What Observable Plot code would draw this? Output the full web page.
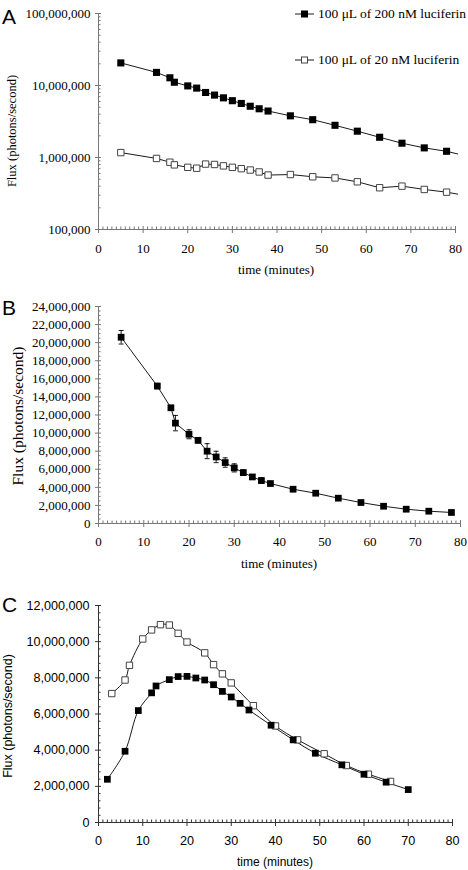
<!DOCTYPE html>
<html><head><meta charset="utf-8">
<script src="https://cdn.jsdelivr.net/npm/d3@7"></script>
<script src="https://cdn.jsdelivr.net/npm/@observablehq/plot@0.6"></script>
<style>
body{margin:0;background:#fff;}
#wrap{position:relative;width:468px;height:870px;overflow:hidden;background:#fff;}
#wrap > svg{position:absolute;left:0;overflow:visible;}
.letter{position:absolute;font-family:"Liberation Sans",Arial,sans-serif;font-size:21px;line-height:1;color:#000;}
.legend{position:absolute;font-family:"Liberation Serif",serif;font-size:13.5px;display:flex;align-items:center;white-space:nowrap;color:#000;}
.legend svg{margin-right:4px;}
.alabel{position:absolute;white-space:nowrap;line-height:1;color:#000;transform:translate(-50%,-50%);}
.alabel.rot{transform:translate(-50%,-50%) rotate(-90deg);}
</style></head><body><div id="wrap"></div>
<script>
// ---------- data ----------
const timesAB = [5,13,16,17,20,22,24,26,28,30,32,34,36,38,43,48,53,58,63,68,73,78];
const flux200 = [20.6e6,15.2e6,12.8e6,11.1e6,9.87e6,9.2e6,8.0e6,7.36e6,6.74e6,6.15e6,5.63e6,5.15e6,4.75e6,4.42e6,3.79e6,3.35e6,2.80e6,2.32e6,1.91e6,1.58e6,1.36e6,1.22e6];
const err200  = [0.75e6,0.3e6,0.2e6,0.85e6,0.5e6,0.3e6,0.83e6,0.63e6,0.52e6,0.45e6,0.3e6,0.25e6,0.3e6,0.2e6,0.12e6,0.12e6,0.12e6,0.12e6,0.1e6,0.1e6,0.1e6,0.1e6];
const flux20  = [1.17e6,0.97e6,0.86e6,0.79e6,0.73e6,0.71e6,0.81e6,0.80e6,0.765e6,0.73e6,0.70e6,0.67e6,0.63e6,0.57e6,0.58e6,0.54e6,0.52e6,0.46e6,0.38e6,0.40e6,0.36e6,0.33e6];
const lineEndTime = 80.5;
const lineEnd200 = 1.12e6;
const lineEnd20 = 0.31e6;

const timesCfilled = [2,6,9,12,13,16,18,20,22,24,26,28,30,32,34,39,44,49,55,60,65,70];
const fluxCfilled  = [2.39e6,3.94e6,6.19e6,7.17e6,7.55e6,7.90e6,8.07e6,8.08e6,7.99e6,7.88e6,7.62e6,7.25e6,6.94e6,6.59e6,6.22e6,5.38e6,4.57e6,3.83e6,3.19e6,2.67e6,2.23e6,1.82e6];
const timesCopen   = [3,6,7,10,12,14,16,18,20,24,26,28,30,35,40,45,51,56,61,66];
const fluxCopen    = [7.13e6,7.88e6,8.69e6,10.15e6,10.65e6,10.94e6,10.92e6,10.46e6,9.98e6,9.38e6,8.73e6,8.22e6,7.72e6,6.46e6,5.34e6,4.57e6,3.80e6,3.15e6,2.67e6,2.27e6];

const legendLabels = ["100 μL of 200 nM luciferin", "100 μL of 20 nM luciferin"];
const yTitle = "Flux (photons/second)";
const xTitle = "time (minutes)";
const xTicks = [0,10,20,30,40,50,60,70,80];
const yTicksA = [1e5,1e6,1e7,1e8];
const yTicksB = d3.range(0, 24e6 + 1, 2e6);
const yTicksC = d3.range(0, 12e6 + 1, 2e6);

// ---------- helpers ----------
const A = timesAB.map((t,i)=>({t, hi: flux200[i], lo: flux20[i], err: err200[i]}));
const lineHiA = [...A.map(d=>({t:d.t, v:d.hi})), {t: lineEndTime, v: lineEnd200}];
const lineLoA = [...A.map(d=>({t:d.t, v:d.lo})), {t: lineEndTime, v: lineEnd20}];
const Cf = timesCfilled.map((t,i)=>({t, v: fluxCfilled[i]}));
const Co = timesCopen.map((t,i)=>({t, v: fluxCopen[i]}));

const fmt = d3.format(",");
const minorX = d3.range(0, 81, 1).filter(v => v % 10 !== 0);
const minorLog = [];
for (const p of [1e5,1e6,1e7]) for (let k=2;k<10;k++) minorLog.push(k*p);
const capSymbol = {draw(ctx){ ctx.moveTo(-2.5,0); ctx.lineTo(2.5,0); }};

const wrap = document.getElementById("wrap");
function place(svg, top){ svg.style.top = top + "px"; wrap.appendChild(svg); }

function axesMarks({yTicks, yMinor, yMin, axisColor, tickPadX, tickPadY}) {
  return [
    Plot.ruleX([0], {stroke: axisColor}),
    Plot.ruleY([yMin], {stroke: axisColor}),
    Plot.axisY({ticks: yTicks, tickFormat: fmt, tickSize: 3, tickPadding: tickPadY, stroke: axisColor, label: null, fill: "#000"}),
    Plot.axisY({ticks: yTicks, tickFormat: () => "", tickSize: -3, stroke: axisColor, label: null}),
    Plot.axisY({ticks: yMinor, tickFormat: () => "", tickSize: -2.5, stroke: axisColor, label: null}),
    Plot.axisX({ticks: xTicks, tickFormat: d => d, tickSize: 4, tickPadding: tickPadX, stroke: axisColor, label: null, fill: "#000"}),
    Plot.axisX({ticks: xTicks, tickFormat: () => "", tickSize: -3, stroke: axisColor, label: null}),
    Plot.axisX({ticks: minorX, tickFormat: () => "", tickSize: -2.5, stroke: axisColor, label: null})
  ];
}

// ---------- Panel A ----------
const pA = Plot.plot({
  width: 468, height: 290,
  marginTop: 13, marginBottom: 61, marginLeft: 98, marginRight: 13,
  style: {fontFamily: "'Liberation Serif', serif", fontSize: "13px", color: "#000", background: "transparent"},
  x: {domain: [0, 80]},
  y: {type: "log", domain: [1e5, 1e8]},
  marks: [
    ...axesMarks({yTicks: yTicksA, yMinor: minorLog, yMin: 1e5, axisColor: "#777", tickPadX: 10, tickPadY: 5}),
    Plot.line(lineHiA, {x: "t", y: "v", stroke: "#000", strokeWidth: 0.9}),
    Plot.line(lineLoA, {x: "t", y: "v", stroke: "#000", strokeWidth: 0.9}),
    Plot.dot(A, {x: "t", y: "hi", symbol: "square", r: 4, fill: "#000", stroke: "none"}),
    Plot.dot(A, {x: "t", y: "lo", symbol: "square", r: 3.6, fill: "#fff", stroke: "#444", strokeWidth: 1})
  ]
});
place(pA, 0);

// ---------- Panel B ----------
const pB = Plot.plot({
  width: 468, height: 290,
  marginTop: 16, marginBottom: 57, marginLeft: 98, marginRight: 8,
  style: {fontFamily: "'Liberation Serif', serif", fontSize: "13px", color: "#000", background: "transparent"},
  x: {domain: [0, 80]},
  y: {domain: [0, 24e6]},
  marks: [
    ...axesMarks({yTicks: yTicksB, yMinor: d3.range(0, 24e6, 0.5e6).filter(v => v % 2e6 !== 0), yMin: 0, axisColor: "#777", tickPadX: 9, tickPadY: 5}),
    Plot.ruleX(A, {x: "t", y1: d => d.hi - d.err, y2: d => d.hi + d.err, stroke: "#000", strokeWidth: 0.9}),
    Plot.dot(A, {x: "t", y: d => d.hi - d.err, symbol: capSymbol, stroke: "#000", fill: "none", strokeWidth: 0.9}),
    Plot.dot(A, {x: "t", y: d => d.hi + d.err, symbol: capSymbol, stroke: "#000", fill: "none", strokeWidth: 0.9}),
    Plot.line(A, {x: "t", y: "hi", stroke: "#000", strokeWidth: 0.9}),
    Plot.dot(A, {x: "t", y: "hi", symbol: "square", r: 3.8, fill: "#000", stroke: "none"})
  ]
});
place(pB, 290);

// ---------- Panel C ----------
const pC = Plot.plot({
  width: 468, height: 290,
  marginTop: 25, marginBottom: 48, marginLeft: 98, marginRight: 16,
  style: {fontFamily: "'Liberation Sans', Arial, sans-serif", fontSize: "12.6px", color: "#000", background: "transparent"},
  x: {domain: [0, 80]},
  y: {domain: [0, 12e6]},
  marks: [
    ...axesMarks({yTicks: yTicksC, yMinor: d3.range(0, 12e6, 0.4e6).filter(v => Math.round(v) % 2e6 !== 0), yMin: 0, axisColor: "#333", tickPadX: 10, tickPadY: 6}),
    Plot.line(Co, {x: "t", y: "v", stroke: "#000", strokeWidth: 0.9, curve: "catmull-rom"}),
    Plot.line(Cf, {x: "t", y: "v", stroke: "#000", strokeWidth: 0.9, curve: "catmull-rom"}),
    Plot.dot(Co, {x: "t", y: "v", symbol: "square", r: 3.6, fill: "#fff", stroke: "#444", strokeWidth: 1}),
    Plot.dot(Cf, {x: "t", y: "v", symbol: "square", r: 3.8, fill: "#000", stroke: "none"})
  ]
});
place(pC, 580);

// ---------- axis titles ----------
function addLabel(text, cx, cy, size, family, rotated) {
  const d = document.createElement("div");
  d.className = "alabel" + (rotated ? " rot" : "");
  d.textContent = text;
  d.style.left = cx + "px"; d.style.top = cy + "px";
  d.style.fontSize = size + "px"; d.style.fontFamily = family;
  wrap.appendChild(d);
}
const serif = "'Liberation Serif', serif", sans = "'Liberation Sans', Arial, sans-serif";
addLabel(yTitle, 12, 131, 12.5, serif, true);
addLabel(yTitle, 18, 416, 15.5, serif, true);
addLabel(yTitle, 8, 716, 12.5, sans, true);
addLabel(xTitle, 276, 269, 13, serif, false);
addLabel(xTitle, 279, 563, 13, serif, false);
addLabel(xTitle, 275, 862, 12, sans, false);

// ---------- letters ----------
[["A", 6], ["B", 297], ["C", 594]].forEach(([t, top]) => {
  const d = document.createElement("div");
  d.className = "letter"; d.textContent = t;
  d.style.left = "2px"; d.style.top = top + "px";
  wrap.appendChild(d);
});

// ---------- legend (panel A) ----------
legendLabels.forEach((lab, i) => {
  const row = document.createElement("div");
  row.className = "legend";
  row.style.left = "295px";
  row.style.top = (i === 0 ? 6 : 52) + "px";
  const filled = i === 0;
  row.innerHTML = `<svg width="19" height="10" viewBox="0 0 19 10"><line x1="0" y1="5" x2="19" y2="5" stroke="#000" stroke-width="0.9"/>` +
    (filled ? `<rect x="6" y="1.5" width="7" height="7" fill="#000"/>` : `<rect x="6.5" y="2" width="6" height="6" fill="#fff" stroke="#444" stroke-width="1"/>`) +
    `</svg>`;
  const span = document.createElement("span");
  span.textContent = lab;
  row.appendChild(span);
  wrap.appendChild(row);
});
</script>
</body></html>
